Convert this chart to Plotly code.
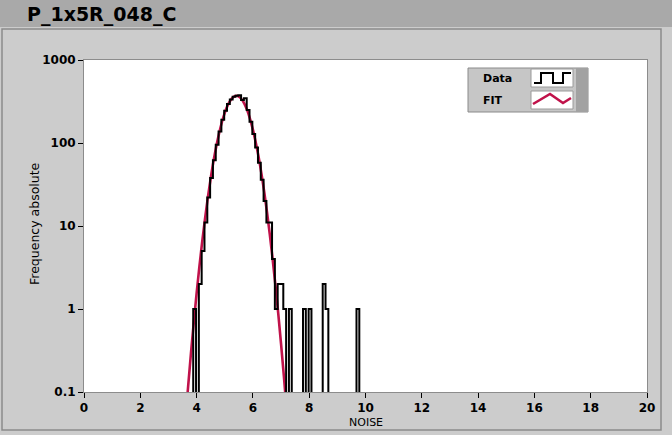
import numpy as np
import plotly.graph_objects as go

# ---------------- data ----------------
bin_centers = [3.93, 4.03, 4.13, 4.23, 4.33, 4.43, 4.53, 4.63, 4.73, 4.83,
               4.93, 5.03, 5.13, 5.23, 5.33, 5.43, 5.53, 5.63, 5.73, 5.83,
               5.93, 6.03, 6.13, 6.23, 6.33, 6.43, 6.53, 6.63, 6.73, 6.83,
               6.93, 7.03, 7.13, 7.23, 7.33, 7.43, 7.53, 7.63, 7.73, 7.83,
               7.93, 8.03, 8.13, 8.23, 8.33, 8.43, 8.53, 8.63, 8.73, 8.83,
               8.93, 9.03, 9.13, 9.23, 9.33, 9.43, 9.53, 9.63, 9.73]
counts = [1, 0, 2, 5, 11, 22, 38, 62, 95, 138,
          190, 245, 295, 335, 362, 372, 375, 330, 345, 250,
          180, 128, 88, 58, 36, 20, 11, 11, 4, 1,
          2, 2, 1, 0, 1, 0, 0, 0, 0, 1,
          0, 1, 0, 0, 0, 0, 2, 1, 0, 0,
          0, 0, 0, 0, 0, 0, 0, 0, 1]
bin_width = 0.1

fit_x = [3.6, 3.7, 3.8, 3.9, 4.0, 4.1, 4.2, 4.3, 4.4, 4.5, 4.6, 4.7, 4.8, 4.9,
         5.0, 5.1, 5.2, 5.3, 5.4, 5.5, 5.6, 5.7, 5.8, 5.9, 6.0, 6.1, 6.2, 6.3,
         6.4, 6.5, 6.6, 6.7, 6.8, 6.9, 7.0, 7.1, 7.2]
fit_y = [0.045, 0.118, 0.294, 0.692, 1.54, 3.26, 6.51, 12.3, 22.1, 37.4, 60.1,
         91.3, 131, 179, 231, 282, 326, 357, 370, 363, 337, 296, 247, 194, 145,
         102, 68.6, 43.4, 26.0, 14.8, 7.93, 4.03, 1.94, 0.885, 0.381, 0.156, 0.060]

x_tick_vals = [0, 2, 4, 6, 8, 10, 12, 14, 16, 18, 20]
y_tick_vals = [0.1, 1, 10, 100, 1000]
y_tick_text = ["0.1", "1", "10", "100", "1000"]

title_text = "P_1x5R_048_C"
x_title = "NOISE"
y_title = "Frequency absolute"
legend_names = ["Data", "FIT"]

# ---------------- layout geometry (pixels) ----------------
W, H = 672, 435
L, R, T, B = 84, 647, 60, 392  # plot area in px


def px(xp):
    return (xp - L) / (R - L)


def py(yp):
    return (B - yp) / (B - T)


floor = 0.01
c = np.array(bin_centers)
edges = np.append(c - bin_width / 2, c[-1] + bin_width / 2)
vals = np.where(np.array(counts) > 0, np.array(counts, dtype=float), floor)
step_x = np.concatenate([[edges[0]], edges])
step_y = np.concatenate([[floor], vals, [floor]])

fig = go.Figure()
fig.add_trace(go.Scatter(x=fit_x, y=fit_y, mode="lines", line=dict(color="#c0124a", width=2.6, shape="spline"),
                         name=legend_names[1], showlegend=False, hoverinfo="skip"))
fig.add_trace(go.Scatter(x=step_x, y=step_y, mode="lines", line=dict(color="black", width=2, shape="hv"),
                         name=legend_names[0], showlegend=False, hoverinfo="skip"))

font_ticks = dict(family="DejaVu Sans", size=12, color="black", weight="bold")

fig.update_layout(
    width=W, height=H,
    margin=dict(l=L, r=W - R, t=T, b=H - B, autoexpand=False),
    paper_bgcolor="#cccccc", plot_bgcolor="white",
    xaxis=dict(range=[0, 20], tickvals=x_tick_vals, ticks="outside", ticklen=5, tickcolor="black",
               tickfont=font_ticks, showgrid=False, zeroline=False, showline=True, linecolor="#8c8c8c",
               mirror=True, automargin=False),
    yaxis=dict(type="log", range=[-1, 3], tickvals=y_tick_vals, ticktext=y_tick_text, ticks="outside",
               ticklen=5, tickcolor="black", tickfont=font_ticks, showgrid=False, zeroline=False,
               showline=True, linecolor="#8c8c8c", mirror=True, automargin=False),
)

shapes = []
# title bar
shapes.append(dict(type="rect", xref="paper", yref="paper", x0=px(0), x1=px(W), y0=py(27), y1=py(0),
                   fillcolor="#a9a9a9", line=dict(width=0), layer="below"))
# panel border
shapes.append(dict(type="rect", xref="paper", yref="paper", x0=px(2), x1=px(661), y0=py(430), y1=py(29),
                   fillcolor="rgba(0,0,0,0)", line=dict(color="#8a8a8a", width=1.5), layer="below"))
# legend box
shapes.append(dict(type="rect", xref="paper", yref="paper", x0=px(468), x1=px(588), y0=py(112), y1=py(68),
                   fillcolor="#c6c6c6", line=dict(color="#8a8a8a", width=1)))
shapes.append(dict(type="rect", xref="paper", yref="paper", x0=px(576), x1=px(588), y0=py(112), y1=py(68),
                   fillcolor="#a2a2a2", line=dict(width=0)))
for top, bot in [(69, 87), (91, 109)]:
    shapes.append(dict(type="rect", xref="paper", yref="paper", x0=px(531), x1=px(573), y0=py(bot), y1=py(top),
                       fillcolor="white", line=dict(color="#9a9a9a", width=1)))
# legend icons
data_icon = [(534, 83), (541, 83), (541, 73), (553, 73), (553, 83), (563, 83), (563, 73), (571, 73)]
fit_icon = [(533, 104), (550, 94), (563, 103), (571, 98)]


def path_of(pts):
    return "M " + " L ".join(f"{px(a):.5f},{py(b):.5f}" for a, b in pts)


shapes.append(dict(type="path", xref="paper", yref="paper", path=path_of(data_icon),
                   line=dict(color="black", width=2)))
shapes.append(dict(type="path", xref="paper", yref="paper", path=path_of(fit_icon),
                   line=dict(color="#c0124a", width=2.6)))
fig.update_layout(shapes=shapes)

annotations = [
    dict(text=f"<b>{title_text}</b>", xref="paper", yref="paper", x=px(25), y=py(14), xanchor="left",
         yanchor="middle", showarrow=False, font=dict(family="DejaVu Sans", size=19, color="black")),
    dict(text=f"<b>{legend_names[0]}</b>", xref="paper", yref="paper", x=px(481), y=py(78), xanchor="left",
         yanchor="middle", showarrow=False, font=dict(family="DejaVu Sans", size=11, color="black")),
    dict(text=f"<b>{legend_names[1]}</b>", xref="paper", yref="paper", x=px(481), y=py(100), xanchor="left",
         yanchor="middle", showarrow=False, font=dict(family="DejaVu Sans", size=11, color="black")),
    dict(text=x_title, xref="paper", yref="paper", x=px(366), y=py(422), xanchor="center",
         yanchor="middle", showarrow=False, font=dict(family="DejaVu Sans", size=11, color="black")),
    dict(text=y_title, xref="paper", yref="paper", x=px(34), y=py(224), xanchor="center",
         yanchor="middle", showarrow=False, textangle=-90,
         font=dict(family="DejaVu Sans", size=12.5, color="black")),
]
fig.update_layout(annotations=annotations)

fig.write_html("out.html", config={"displayModeBar": False},
               post_script="document.body.style.margin='0px';document.body.style.overflow='hidden';")
